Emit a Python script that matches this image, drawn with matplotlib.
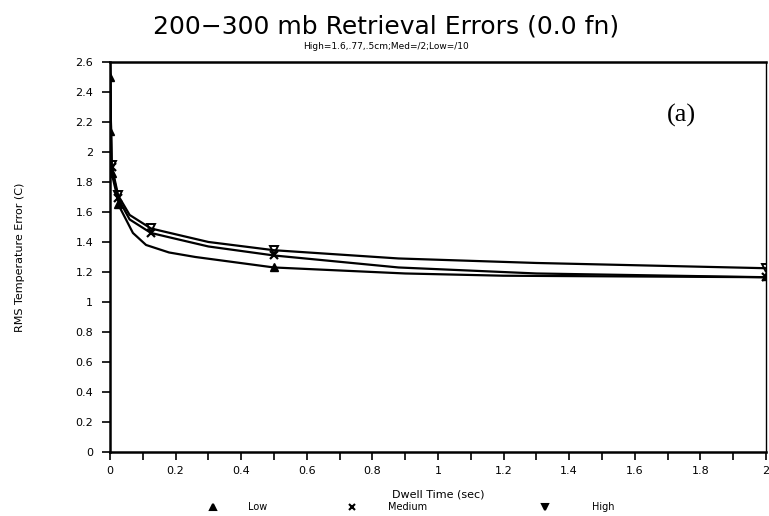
import matplotlib
matplotlib.use("Agg")
import matplotlib.pyplot as plt
from matplotlib.lines import Line2D

# marker points
low_x = [0.0, 0.001, 0.005, 0.025, 0.5, 2.0]
low_y = [2.50, 2.14, 1.86, 1.65, 1.23, 1.17]
med_x = [0.005, 0.025, 0.125, 0.5, 2.0]
med_y = [1.90, 1.69, 1.46, 1.31, 1.165]
high_x = [0.005, 0.025, 0.125, 0.5, 2.0]
high_y = [1.91, 1.71, 1.49, 1.345, 1.225]

# traced smooth curves
low_cx = [0.0, 0.005, 0.03, 0.07, 0.11, 0.18, 0.26, 0.5, 0.9, 1.2, 2.0]
low_cy = [2.60, 1.86, 1.63, 1.46, 1.38, 1.33, 1.30, 1.23, 1.19, 1.175, 1.165]
med_cx = [0.0, 0.005, 0.025, 0.06, 0.125, 0.183, 0.3, 0.5, 0.88, 1.3, 2.0]
med_cy = [2.60, 1.90, 1.69, 1.55, 1.46, 1.43, 1.37, 1.31, 1.23, 1.19, 1.165]
high_cx = [0.0, 0.005, 0.025, 0.06, 0.125, 0.183, 0.3, 0.5, 0.88, 1.3, 2.0]
high_cy = [2.60, 1.91, 1.71, 1.58, 1.49, 1.46, 1.40, 1.345, 1.29, 1.26, 1.225]

legend_names = ["Low", "Medium", "High"]

fig = plt.figure(figsize=(7.69, 5.16), dpi=100)
ax = fig.add_axes([0.143, 0.124, 0.853, 0.756])

lw = 1.6
ax.plot(low_cx, low_cy, color="black", lw=lw)
ax.plot(med_cx, med_cy, color="black", lw=lw)
ax.plot(high_cx, high_cy, color="black", lw=lw)
ax.plot(low_x, low_y, linestyle="none", marker="^", color="black", ms=6)
ax.plot(med_x, med_y, linestyle="none", marker="x", color="black", ms=6, mew=1.6)
ax.plot(high_x, high_y, linestyle="none", marker="v", color="black",
        ms=6, mfc="none", mew=1.4)

ax.set_xlim(0, 2)
ax.set_ylim(0, 2.6)
ax.set_xticks([i * 0.2 for i in range(11)])
ax.set_xticklabels(["0", "0.2", "0.4", "0.6", "0.8", "1", "1.2", "1.4", "1.6", "1.8", "2"])
ax.set_xticks([0.1 + i * 0.2 for i in range(10)], minor=True)
ax.set_yticks([i * 0.2 for i in range(14)])
ax.set_yticklabels(["0", "0.2", "0.4", "0.6", "0.8", "1", "1.2", "1.4", "1.6",
                    "1.8", "2", "2.2", "2.4", "2.6"])
ax.tick_params(axis="both", which="both", direction="out", length=6, width=1.2,
               labelsize=8, pad=4)
ax.tick_params(axis="y", pad=6)
for s in ["left", "bottom", "top"]:
    ax.spines[s].set_linewidth(1.8)
ax.spines["right"].set_linewidth(1.0)

ax.set_ylabel("RMS Temperature Error (C)", fontsize=8, labelpad=36)
ax.set_xlabel("Dwell Time (sec)", fontsize=8, labelpad=10)

fig.text(0.502, 0.948, "200\u2212300 mb Retrieval Errors (0.0 fn)",
         ha="center", va="center", fontsize=18)
fig.text(0.502, 0.909, "High=1.6,.77,.5cm;Med=/2;Low=/10",
         ha="center", va="center", fontsize=6.5)
fig.text(0.886, 0.777, "(a)", ha="center", va="center",
        fontsize=19, family="Liberation Serif")

# legend row along the bottom
markers = [("^", 0.277, 0.322), ("x", 0.458, 0.505), ("v", 0.709, 0.770)]
for (m, mx, tx), name in zip(markers, legend_names):
    fig.add_artist(Line2D([mx], [0.018], transform=fig.transFigure, linestyle="none",
                          marker=m, color="black", ms=5, mew=1.5))
    fig.text(tx, 0.018, name, ha="left", va="center", fontsize=7)

fig.savefig("out.png", dpi=100, facecolor="white")
